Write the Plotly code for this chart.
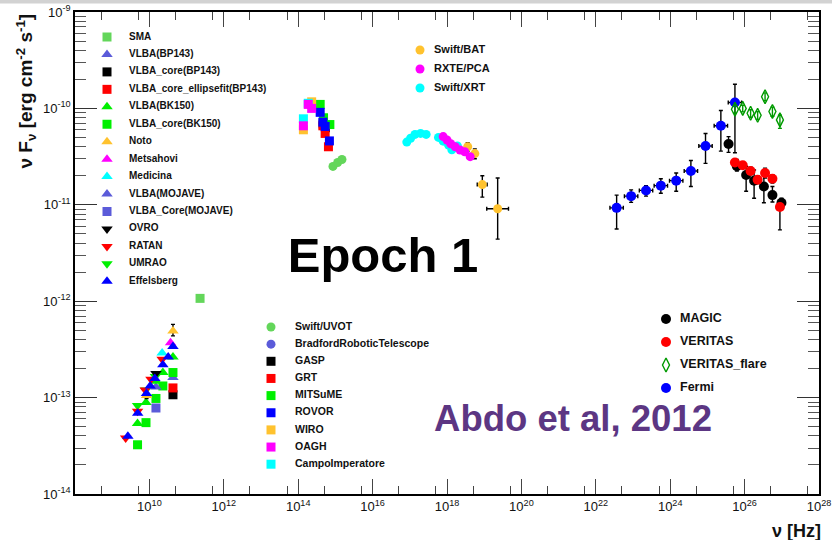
import plotly.graph_objects as go

# ---------------- radio / mm ----------------
sma_nu = [2.3e11]
sma_f = [1.07e-12]

vlba_bp143_nu = [4.3e10]
vlba_bp143_f = [1.62e-13]

vlba_core_bp143_nu = [4.3e10]
vlba_core_bp143_f = [1.07e-13]

vlba_ellipse_bp143_nu = [4.3e10]
vlba_ellipse_bp143_f = [1.26e-13]

vlba_bk150_nu = [4.8e9, 8.1e9, 1.5e10, 2.3e10, 4.3e10]
vlba_bk150_f = [5.4e-14, 8.9e-14, 1.48e-13, 1.82e-13, 2.63e-13]

vlba_core_bk150_nu = [4.8e9, 8.1e9, 1.5e10, 2.3e10, 4.3e10]
vlba_core_bk150_f = [3.24e-14, 5.5e-14, 9.8e-14, 1.32e-13, 1.82e-13]

noto_nu = [8.4e9, 4.3e10]
noto_f = [1.05e-13, 4.9e-13]
noto_f_hi = [1.12e-13, 5.75e-13]
noto_f_lo = [0.98e-13, 4.37e-13]

metsahovi_nu = [3.7e10]
metsahovi_f = [3.7e-13]

medicina_nu = [2.2e10]
medicina_f = [2.9e-13]

mojave_nu = [1.5e10]
mojave_f = [1.29e-13]

mojave_core_nu = [1.5e10]
mojave_core_f = [7.8e-14]

ovro_nu = [1.5e10]
ovro_f = [1.78e-13]

ratan_nu = [2.3e9, 4.8e9, 7.7e9, 1.1e10, 2.2e10]
ratan_f = [3.8e-14, 7.2e-14, 1.2e-13, 1.55e-13, 2.5e-13]

umrao_nu = [4.8e9, 8.0e9, 1.45e10]
umrao_f = [8.3e-14, 1.2e-13, 1.66e-13]

effelsberg_nu = [2.64e9, 4.85e9, 8.35e9, 1.05e10, 1.4e10, 2.3e10, 3.2e10, 4.3e10]
effelsberg_f = [3.98e-14, 6.9e-14, 1.1e-13, 1.32e-13, 1.58e-13, 2.19e-13, 2.63e-13, 3.39e-13]

# ---------------- optical / UV ----------------
uvot_nu = [8.6e14, 1.15e15, 1.5e15]
uvot_f = [2.5e-11, 2.75e-11, 2.95e-11]

bradford_nu = [4.7e14]
bradford_f = [7.0e-11]

gasp_nu = [4.7e14, 5.4e14]
gasp_f = [6.9e-11, 6.3e-11]

grt_nu = [4.6e14, 5.3e14, 6.5e14]
grt_f = [6.6e-11, 5.5e-11, 4.0e-11]

mitsume_nu = [3.9e14, 4.8e14, 7.1e14]
mitsume_f = [1.1e-10, 8.0e-11, 6.8e-11]

rovor_nu = [3.9e14, 4.6e14, 5.3e14, 6.9e14]
rovor_f = [9.1e-11, 7.2e-11, 6.5e-11, 4.6e-11]

wiro_nu = [1.38e14, 2.3e14]
wiro_f = [6.0e-11, 1.17e-10]

oagh_nu = [1.38e14, 1.86e14, 2.3e14]
oagh_f = [6.6e-11, 1.1e-10, 1.0e-10]

campo_nu = [1.38e14, 1.86e14]
campo_f = [7.8e-11, 1.13e-10]

# ---------------- X-ray ----------------
xrt_nu = [8.3e16, 1.05e17, 1.38e17, 1.95e17, 2.75e17, 5.9e17, 7.9e17, 1.1e18, 1.35e18, 1.48e18, 1.9e18]
xrt_f = [4.47e-11, 4.9e-11, 5.37e-11, 5.5e-11, 5.37e-11, 5.0e-11, 4.57e-11, 4.17e-11, 3.72e-11, 3.89e-11, 4.07e-11]

pca_nu = [7.9e17, 1.0e18, 1.26e18, 1.66e18, 2.24e18, 3.0e18, 4.2e18]
pca_f = [5.1e-11, 4.7e-11, 4.3e-11, 4.0e-11, 3.7e-11, 3.55e-11, 3.16e-11]

bat_nu = [3.6e18, 5.6e18, 8.9e18, 2.3e19]
bat_nu_lo = [3.2e18, 5.0e18, 6.5e18, 1.17e19]
bat_nu_hi = [4.0e18, 6.3e18, 1.2e19, 4.5e19]
bat_f = [4.0e-11, 3.4e-11, 1.62e-11, 9.1e-12]
bat_f_hi = [4.4e-11, 3.8e-11, 2.0e-11, 1.9e-11]
bat_f_lo = [3.6e-11, 3.0e-11, 1.2e-11, 4.4e-12]

# ---------------- gamma-ray ----------------
fermi_nu = [3.63e22, 8.9e22, 2.24e23, 5.6e23, 1.45e24, 3.6e24, 8.9e24, 2.3e25, 5.5e25]
fermi_f = [9.3e-12, 1.23e-11, 1.41e-11, 1.58e-11, 1.78e-11, 2.24e-11, 4.07e-11, 6.6e-11, 1.15e-10]
fermi_f_hi = [1.26e-11, 1.43e-11, 1.58e-11, 1.86e-11, 2.14e-11, 2.88e-11, 5.5e-11, 9.5e-11, 1.78e-10]
fermi_f_lo = [5.6e-12, 1.06e-11, 1.23e-11, 1.32e-11, 1.38e-11, 1.55e-11, 2.69e-11, 3.6e-11, 3.47e-11]
fermi_bin_halfwidth_dex = 0.18

magic_nu = [3.7e25, 6.2e25, 1.1e26, 1.8e26, 3.3e26, 5.6e26, 9.8e26]
magic_f = [4.27e-11, 2.51e-11, 2.04e-11, 1.78e-11, 1.55e-11, 1.26e-11, 1.05e-11]
magic_f_hi = [5.1e-11, 2.95e-11, 2.5e-11, 2.3e-11, 2.14e-11, 1.55e-11, 1.17e-11]
magic_f_lo = [3.5e-11, 2.24e-11, 1.38e-11, 1.17e-11, 1.05e-11, 1.07e-11, 9.5e-12]

veritas_nu = [5.5e25, 8.9e25, 1.45e26, 2.24e26, 3.55e26, 5.6e26, 8.9e26]
veritas_f = [2.75e-11, 2.57e-11, 2.24e-11, 1.82e-11, 2.14e-11, 1.86e-11, 9.5e-12]
veritas_f_hi = [2.95e-11, 2.75e-11, 2.45e-11, 2.0e-11, 2.4e-11, 2.05e-11, 1.07e-11]
veritas_f_lo = [2.55e-11, 2.4e-11, 2.05e-11, 1.66e-11, 1.9e-11, 1.68e-11, 5.5e-12]

flare_nu = [5.5e25, 8.9e25, 1.45e26, 2.24e26, 3.55e26, 5.6e26, 8.9e26]
flare_f = [9.8e-11, 1.0e-10, 8.9e-11, 8.5e-11, 1.32e-10, 9.3e-11, 7.6e-11]
flare_f_hi = [1.07e-10, 1.08e-10, 9.7e-11, 9.3e-11, 1.45e-10, 1.03e-10, 8.5e-11]
flare_f_lo = [8.9e-11, 9.2e-11, 8.1e-11, 7.7e-11, 1.2e-10, 8.3e-11, 6.2e-11]

# ---------------- axis ticks ----------------
x_label_decades = list(range(10, 29, 2))
x_odd_decades = [8] + list(range(9, 28, 2))
y_decades = list(range(-14, -8))

FONT = "Liberation Sans, Arial, Helvetica, sans-serif"
SLATE = "#5b5bd9"
GREEN = "#00f000"
LGREEN = "#63d65a"
ORANGE = "#ffc22e"

# plot-area geometry in pixels (frame edges)
W, H = 832, 540
L, R, T, B = 75, 819, 12, 494

# marker style per instrument: (symbol, colour, size)
STYLE = {
    "SMA": ("square", LGREEN, 9),
    "VLBA(BP143)": ("triangle-up", SLATE, 10),
    "VLBA_core(BP143)": ("square", "#000000", 9),
    "VLBA_core_ellipsefit(BP143)": ("square", "#ff0000", 9),
    "VLBA(BK150)": ("triangle-up", GREEN, 10),
    "VLBA_core(BK150)": ("square", GREEN, 9),
    "Noto": ("triangle-up", ORANGE, 10),
    "Metsahovi": ("triangle-up", "#ff00ff", 10),
    "Medicina": ("triangle-up", "#00ffff", 10),
    "VLBA(MOJAVE)": ("triangle-up", SLATE, 10),
    "VLBA_Core(MOJAVE)": ("square", SLATE, 9),
    "OVRO": ("triangle-down", "#000000", 10),
    "RATAN": ("triangle-down", "#ff0000", 10),
    "UMRAO": ("triangle-down", GREEN, 10),
    "Effelsberg": ("triangle-up", "#0000ff", 10),
    "Swift/BAT": ("circle", ORANGE, 9),
    "RXTE/PCA": ("circle", "#ff00ff", 9),
    "Swift/XRT": ("circle", "#00ffff", 9),
    "Swift/UVOT": ("circle", LGREEN, 9),
    "BradfordRoboticTelescope": ("circle", SLATE, 9),
    "GASP": ("square", "#000000", 9),
    "GRT": ("square", "#ff0000", 9),
    "MITSuME": ("square", GREEN, 9),
    "ROVOR": ("square", "#0000ff", 9),
    "WIRO": ("square", ORANGE, 9),
    "OAGH": ("square", "#ff00ff", 9),
    "CampoImperatore": ("square", "#00ffff", 9),
    "MAGIC": ("circle", "#000000", 10),
    "VERITAS": ("circle", "#ff0000", 10),
    "VERITAS_flare": ("diamond-tall-open", "#009a00", 10),
    "Fermi": ("circle", "#0000ff", 10),
}


def marker_for(name):
    sym, col, size = STYLE[name]
    if sym.endswith("open"):
        return dict(symbol=sym, color=col, size=size, line=dict(color=col, width=1.4))
    return dict(symbol=sym, color=col, size=size, line=dict(width=0))


def yerr(f, hi, lo, color="#000000"):
    return dict(type="data", symmetric=False,
                array=[h - v for h, v in zip(hi, f)],
                arrayminus=[v - l for v, l in zip(f, lo)],
                color=color, thickness=1.4, width=2)


def xerr(nu, hi, lo, color="#000000"):
    return dict(type="data", symmetric=False,
                array=[h - v for h, v in zip(hi, nu)],
                arrayminus=[v - l for v, l in zip(nu, lo)],
                color=color, thickness=1.4, width=2)


def bold(size, color="#111111"):
    return dict(family=FONT, size=size, color=color, weight=700)


fig = go.Figure()


def add(name, nu, f, **kw):
    fig.add_trace(go.Scatter(x=nu, y=f, mode="markers", name=name,
                             marker=marker_for(name), showlegend=False,
                             hoverinfo="x+y+name", **kw))


def add_text(texts, xs, ys, size, color="#111111", position="middle right"):
    """Bold text placed on the pixel-space overlay axes."""
    fig.add_trace(go.Scatter(x=xs, y=ys, text=texts, mode="text", textposition=position,
                             textfont=bold(size, color), xaxis="x2", yaxis="y2",
                             showlegend=False, hoverinfo="skip"))


# radio
add("VLBA(BP143)", vlba_bp143_nu, vlba_bp143_f)
add("VLBA_Core(MOJAVE)", mojave_core_nu, mojave_core_f)
add("VLBA_core(BP143)", vlba_core_bp143_nu, vlba_core_bp143_f)
add("VLBA_core_ellipsefit(BP143)", vlba_ellipse_bp143_nu, vlba_ellipse_bp143_f)
add("VLBA_core(BK150)", vlba_core_bk150_nu, vlba_core_bk150_f)
add("VLBA(MOJAVE)", mojave_nu, mojave_f)
add("VLBA(BK150)", vlba_bk150_nu, vlba_bk150_f)
add("UMRAO", umrao_nu, umrao_f)
add("OVRO", ovro_nu, ovro_f)
add("RATAN", ratan_nu, ratan_f)
add("Medicina", medicina_nu, medicina_f)
add("Metsahovi", metsahovi_nu, metsahovi_f)
add("Noto", noto_nu, noto_f, error_y=yerr(noto_f, noto_f_hi, noto_f_lo))
add("Effelsberg", effelsberg_nu, effelsberg_f)
add("SMA", sma_nu, sma_f)

# optical / UV
add("GASP", gasp_nu, gasp_f)
add("BradfordRoboticTelescope", bradford_nu, bradford_f)
add("GRT", grt_nu, grt_f)
add("MITSuME", mitsume_nu, mitsume_f)
add("ROVOR", rovor_nu, rovor_f)
add("WIRO", wiro_nu, wiro_f)
add("CampoImperatore", campo_nu, campo_f)
add("OAGH", oagh_nu, oagh_f)
add("Swift/UVOT", uvot_nu, uvot_f)

# X-ray
add("Swift/BAT", bat_nu, bat_f,
    error_y=yerr(bat_f, bat_f_hi, bat_f_lo),
    error_x=xerr(bat_nu, bat_nu_hi, bat_nu_lo))
add("Swift/XRT", xrt_nu, xrt_f)
add("RXTE/PCA", pca_nu, pca_f)

# gamma-ray
fermi_nu_hi = [v * 10 ** fermi_bin_halfwidth_dex for v in fermi_nu]
fermi_nu_lo = [v / 10 ** fermi_bin_halfwidth_dex for v in fermi_nu]
add("Fermi", fermi_nu, fermi_f,
    error_y=yerr(fermi_f, fermi_f_hi, fermi_f_lo),
    error_x=xerr(fermi_nu, fermi_nu_hi, fermi_nu_lo))
add("MAGIC", magic_nu, magic_f, error_y=yerr(magic_f, magic_f_hi, magic_f_lo))
add("VERITAS", veritas_nu, veritas_f, error_y=yerr(veritas_f, veritas_f_hi, veritas_f_lo))
add("VERITAS_flare", flare_nu, flare_f,
    error_y=yerr(flare_f, flare_f_hi, flare_f_lo, color="#009a00"))

# ---------------- legend boxes (pixel-space overlay) ----------------
LEGENDS = [
    # (names, key x, text x, first row y, row step, font size)
    (["SMA", "VLBA(BP143)", "VLBA_core(BP143)", "VLBA_core_ellipsefit(BP143)",
      "VLBA(BK150)", "VLBA_core(BK150)", "Noto", "Metsahovi", "Medicina",
      "VLBA(MOJAVE)", "VLBA_Core(MOJAVE)", "OVRO", "RATAN", "UMRAO", "Effelsberg"],
     107, 129, 37, 17.45, 10),
    (["Swift/BAT", "RXTE/PCA", "Swift/XRT"], 420, 434, 50, 19, 11),
    (["Swift/UVOT", "BradfordRoboticTelescope", "GASP", "GRT", "MITSuME",
      "ROVOR", "WIRO", "OAGH", "CampoImperatore"], 271, 295, 327, 17.15, 10.5),
    (["MAGIC", "VERITAS", "VERITAS_flare", "Fermi"], 666, 680, 319, 23, 12.5),
]

for names, kx, tx, y0, dy, fs in LEGENDS:
    rows = [y0 + i * dy for i in range(len(names))]
    for name, y in zip(names, rows):
        fig.add_trace(go.Scatter(x=[kx], y=[y], mode="markers", marker=marker_for(name),
                                 xaxis="x2", yaxis="y2", showlegend=False, hoverinfo="skip"))
    add_text(names, [tx] * len(names), rows, fs)

add_text(["Epoch 1"], [383], [260], 49, "#000000", "middle center")
add_text(["Abdo et al, 2012"], [573], [422], 36.5, "#5c3683", "middle center")

annotations = [
    dict(x=(26 - L) / (R - L), y=1.0, xref="paper", yref="paper", textangle=-90,
         text="ν F<sub>ν</sub> [erg cm<sup>-2</sup> s<sup>-1</sup>]", showarrow=False,
         xanchor="center", yanchor="top", font=bold(19)),
    dict(x=(823 - L) / (R - L), y=(B - 519) / (B - T), xref="paper", yref="paper",
         text="ν [Hz]", showarrow=False, xanchor="right", yanchor="top", font=bold(18)),
]

xtickvals = [10.0 ** d for d in x_label_decades]
xticktext = ["10<sup>%d</sup>" % d for d in x_label_decades]
xminor = [5 * 10.0 ** d for d in range(8, 28)]

ytickvals = [10.0 ** d for d in y_decades]
yticktext = ["10<sup>%d</sup>" % d for d in y_decades]
yminor = [m * 10.0 ** d for d in y_decades[:-1] for m in range(2, 10)]

TICKC = "#444444"

fig.update_layout(
    width=W, height=H,
    margin=dict(l=L, r=W - R, t=T, b=H - B),
    paper_bgcolor="white", plot_bgcolor="white",
    font=dict(family=FONT, size=12, color="#111111"),
    annotations=annotations,
    xaxis=dict(type="log", range=[8, 28], showgrid=False, zeroline=False, automargin=False,
               showline=True, linecolor="#000000", linewidth=1.5, mirror="allticks",
               ticks="inside", ticklen=15, tickwidth=1.2, tickcolor=TICKC,
               tickmode="array", tickvals=xtickvals, ticktext=xticktext,
               tickfont=dict(family=FONT, size=13, color="#111111"),
               minor=dict(tickmode="array", tickvals=xminor, ticks="inside",
                          ticklen=8, tickwidth=1.2, tickcolor=TICKC, showgrid=False)),
    # odd decades: ticks only, no labels
    xaxis3=dict(type="log", range=[8, 28], overlaying="x", anchor="y", side="bottom",
                showgrid=False, zeroline=False, showline=False, mirror="ticks",
                automargin=False, ticks="inside", ticklen=15, tickwidth=1.2,
                tickcolor=TICKC, tickmode="array",
                tickvals=[10.0 ** d for d in x_odd_decades],
                showticklabels=False, fixedrange=True),
    yaxis=dict(type="log", range=[-14, -9], showgrid=False, zeroline=False, automargin=False,
               showline=True, linecolor="#000000", linewidth=1.5, mirror="allticks",
               ticks="inside", ticklen=22, tickwidth=1.2, tickcolor="#333333",
               tickmode="array", tickvals=ytickvals, ticktext=yticktext,
               tickfont=dict(family=FONT, size=13, color="#111111"),
               minor=dict(tickmode="array", tickvals=yminor, ticks="inside",
                          ticklen=11, tickwidth=1.2, tickcolor="#555555", showgrid=False)),
    xaxis2=dict(overlaying="x", anchor="y2", range=[L, R], visible=False,
                fixedrange=True, automargin=False),
    yaxis2=dict(overlaying="y", anchor="x2", range=[B, T], visible=False,
                fixedrange=True, automargin=False),
    shapes=[dict(type="rect", xref="paper", yref="paper", x0=-0.2, x1=1.2,
                 y0=1 + 8.5 / (B - T), y1=1 + T / (B - T), fillcolor="#d2d2d2",
                 line=dict(width=0), layer="above")],
)

fig.write_html("out.html")
